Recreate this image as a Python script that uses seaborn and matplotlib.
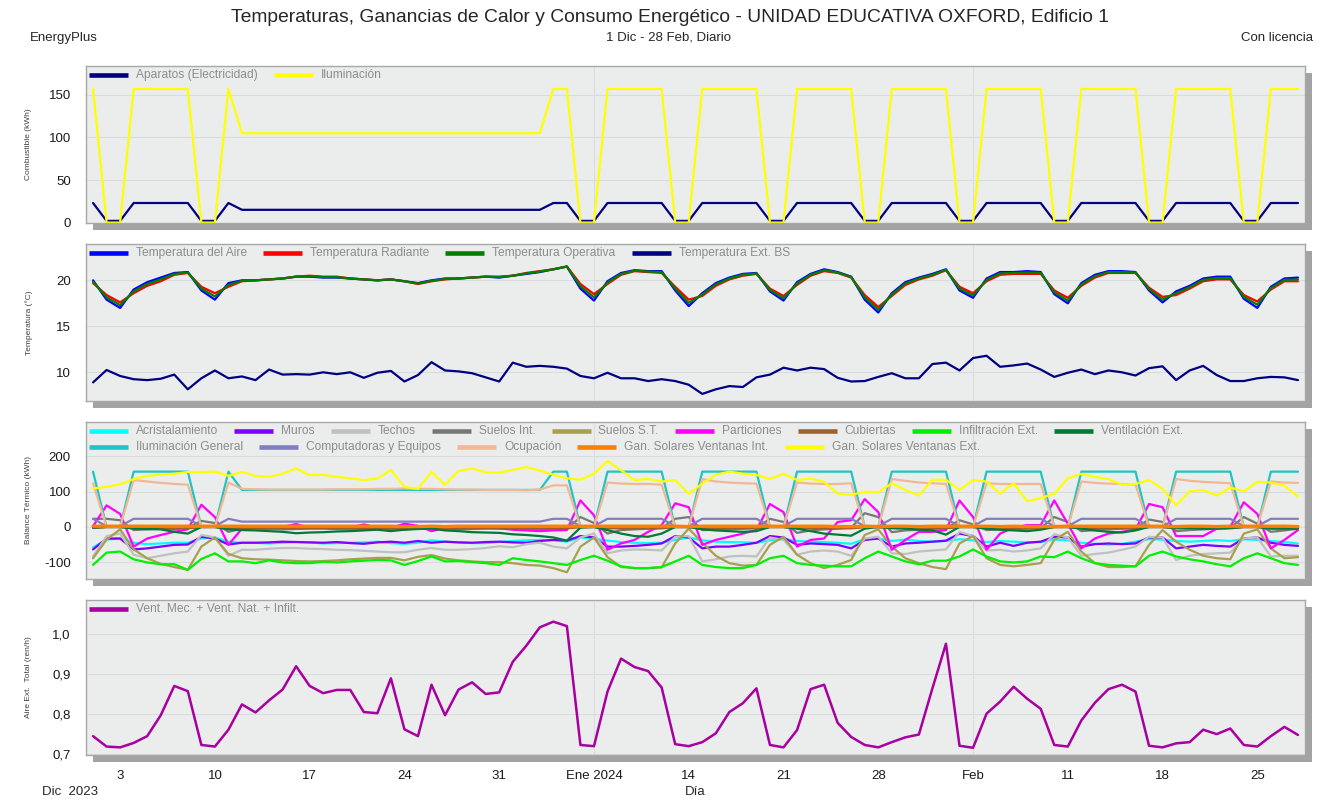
import pandas as pd
import seaborn as sns
import matplotlib
matplotlib.use("Agg")
import matplotlib.pyplot as plt
from matplotlib.lines import Line2D
from matplotlib.patches import Rectangle
from matplotlib.ticker import FuncFormatter

# ---------------------------------------------------------------- data
dias = pd.date_range("2023-12-01", "2024-02-28", freq="D")

tick_labels = ["3", "10", "17", "24", "31", "Ene 2024", "14", "21", "28",
               "Feb", "11", "18", "25"]

# Combustible (kWh)
aparatos = [23, 2, 2, 23, 23, 23, 23, 23, 2, 2,
            23, 15, 15, 15, 15, 15, 15, 15, 15, 15,
            15, 15, 15, 15, 15, 15, 15, 15, 15, 15,
            15, 15, 15, 15, 23, 23, 2, 2, 23, 23,
            23, 23, 23, 2, 2, 23, 23, 23, 23, 23,
            2, 2, 23, 23, 23, 23, 23, 2, 2, 23,
            23, 23, 23, 23, 2, 2, 23, 23, 23, 23,
            23, 2, 2, 23, 23, 23, 23, 23, 2, 2,
            23, 23, 23, 23, 23, 2, 2, 23, 23, 23]
iluminacion = [157, 0, 0, 157, 157, 157, 157, 157, 0, 0,
               157, 105, 105, 105, 105, 105, 105, 105, 105, 105,
               105, 105, 105, 105, 105, 105, 105, 105, 105, 105,
               105, 105, 105, 105, 157, 157, 0, 0, 157, 157,
               157, 157, 157, 0, 0, 157, 157, 157, 157, 157,
               0, 0, 157, 157, 157, 157, 157, 0, 0, 157,
               157, 157, 157, 157, 0, 0, 157, 157, 157, 157,
               157, 0, 0, 157, 157, 157, 157, 157, 0, 0,
               157, 157, 157, 157, 157, 0, 0, 157, 157, 157]

# Temperatura (°C)
t_aire = [20.0, 17.9, 17.0, 19.0, 19.8, 20.3, 20.8, 20.9, 18.9, 17.9,
          19.7, 20.0, 20.0, 20.1, 20.2, 20.4, 20.4, 20.3, 20.3, 20.2,
          20.1, 20.0, 20.1, 19.9, 19.7, 20.0, 20.2, 20.2, 20.3, 20.4,
          20.3, 20.5, 20.7, 20.9, 21.2, 21.5, 19.1, 17.8, 19.9, 20.8,
          21.1, 21.0, 21.0, 18.9, 17.2, 18.6, 19.7, 20.3, 20.7, 20.8,
          18.8, 17.8, 19.8, 20.7, 21.2, 20.9, 20.4, 17.9, 16.5, 18.6,
          19.8, 20.3, 20.7, 21.2, 18.9, 18.1, 20.2, 20.9, 20.9, 21.0,
          20.9, 18.5, 17.5, 19.7, 20.6, 21.0, 21.0, 20.9, 18.9, 17.6,
          18.8, 19.4, 20.2, 20.4, 20.4, 18.0, 17.0, 19.3, 20.2, 20.3]
t_radiante = [19.7, 18.4, 17.6, 18.6, 19.4, 19.9, 20.6, 20.8, 19.3, 18.6,
              19.3, 19.9, 20.0, 20.1, 20.2, 20.4, 20.5, 20.4, 20.4, 20.2,
              20.1, 20.0, 20.1, 19.9, 19.6, 19.9, 20.1, 20.2, 20.3, 20.4,
              20.4, 20.5, 20.8, 21.0, 21.2, 21.5, 19.6, 18.5, 19.6, 20.6,
              21.0, 20.9, 20.8, 19.3, 17.9, 18.3, 19.4, 20.1, 20.5, 20.7,
              19.1, 18.3, 19.5, 20.5, 21.0, 20.8, 20.3, 18.4, 17.1, 18.3,
              19.5, 20.1, 20.5, 21.1, 19.3, 18.6, 19.9, 20.6, 20.7, 20.7,
              20.7, 18.9, 18.1, 19.4, 20.3, 20.8, 20.8, 20.8, 19.2, 18.2,
              18.4, 19.1, 19.9, 20.1, 20.1, 18.4, 17.7, 19.0, 19.9, 19.9]
t_operativa = [19.85, 18.15, 17.3, 18.8, 19.6, 20.1, 20.7, 20.85, 19.1, 18.25,
               19.5, 19.95, 20.0, 20.1, 20.2, 20.4, 20.45, 20.35, 20.35, 20.2,
               20.1, 20.0, 20.1, 19.9, 19.65, 19.95, 20.15, 20.2, 20.3, 20.4,
               20.35, 20.5, 20.75, 20.95, 21.2, 21.5, 19.35, 18.15, 19.75, 20.7,
               21.05, 20.95, 20.9, 19.1, 17.55, 18.45, 19.55, 20.2, 20.6, 20.75,
               18.95, 18.05, 19.65, 20.6, 21.1, 20.85, 20.35, 18.15, 16.8, 18.45,
               19.65, 20.2, 20.6, 21.15, 19.1, 18.35, 20.05, 20.75, 20.8, 20.85,
               20.8, 18.7, 17.8, 19.55, 20.45, 20.9, 20.9, 20.85, 19.05, 17.9,
               18.6, 19.25, 20.05, 20.25, 20.25, 18.2, 17.35, 19.15, 20.05, 20.1]
t_exterior = [8.9, 10.25, 9.6, 9.25, 9.15, 9.3, 9.75, 8.15, 9.35, 10.2,
              9.35, 9.55, 9.15, 10.3, 9.75, 9.8, 9.75, 10.0, 9.8, 10.0,
              9.4, 9.95, 10.15, 9.0, 9.7, 11.1, 10.2, 10.1, 9.9, 9.45,
              9.0, 11.05, 10.6, 10.7, 10.6, 10.4, 9.6, 9.35, 9.95, 9.35,
              9.35, 9.05, 9.25, 9.05, 8.65, 7.65, 8.15, 8.5, 8.4, 9.45,
              9.75, 10.5, 10.2, 10.5, 10.35, 9.4, 9.0, 9.05, 9.5, 9.9,
              9.35, 9.35, 10.9, 11.05, 10.2, 11.55, 11.8, 10.6, 10.75, 10.95,
              10.3, 9.5, 9.95, 10.3, 9.8, 10.2, 10.0, 9.65, 10.45, 10.65,
              9.15, 10.2, 10.7, 9.7, 9.05, 9.05, 9.35, 9.5, 9.45, 9.15]

# Balance térmico (kWh)
acristalamiento = [-58, -36, -33, -45, -49, -47, -45, -45, -33, -30,
                   -42, -45, -45, -47, -45, -43, -44, -47, -46, -45,
                   -44, -42, -46, -48, -45, -38, -42, -44, -46, -46,
                   -43, -40, -38, -37, -38, -42, -30, -33, -39, -43,
                   -45, -46, -45, -37, -30, -38, -42, -43, -44, -45,
                   -38, -35, -40, -42, -43, -45, -48, -35, -33, -40,
                   -36, -40, -42, -40, -35, -38, -43, -40, -42, -44,
                   -43, -36, -38, -45, -48, -50, -48, -42, -35, -36,
                   -40, -42, -40, -38, -40, -35, -37, -40, -43, -47]
muros = [-64, -33, -33, -64, -61, -56, -51, -50, -28, -33,
         -50, -45, -45, -44, -42, -43, -44, -45, -43, -46,
         -48, -44, -42, -45, -40, -45, -42, -44, -45, -43,
         -42, -44, -45, -40, -37, -39, -26, -30, -56, -56,
         -54, -51, -47, -26, -30, -61, -56, -56, -51, -45,
         -26, -30, -51, -47, -49, -51, -61, -37, -33, -56,
         -47, -45, -42, -39, -19, -26, -56, -45, -54, -45,
         -42, -28, -30, -56, -49, -47, -49, -47, -30, -30,
         -61, -56, -51, -54, -56, -33, -30, -45, -51, -54]
techos = [-84, -26, -19, -79, -89, -82, -75, -70, -23, -30,
          -82, -65, -65, -62, -60, -60, -62, -63, -65, -66,
          -68, -70, -72, -72, -65, -60, -65, -65, -63, -60,
          -55, -58, -49, -45, -56, -61, -30, -19, -75, -67,
          -64, -65, -67, -28, -26, -98, -92, -84, -82, -84,
          -30, -37, -79, -70, -67, -70, -82, -33, -28, -75,
          -77, -70, -67, -64, -14, -26, -67, -65, -70, -67,
          -61, -21, -30, -82, -77, -73, -65, -56, -28, -30,
          -94, -82, -77, -75, -73, -33, -30, -84, -82, -82]
suelos_int = [23, 23, 19, -9, -7, -5, -7, -2, 17, 11,
              -14, -5, -5, -6, -7, -6, -5, -5, -6, -7,
              -6, -5, -6, -7, -5, -4, -6, -7, -6, -5,
              -5, -6, -7, -8, -8, -6, 28, 11, -19, -9,
              -7, -5, -3, 23, 28, -9, -8, -6, -5, -3,
              23, 14, -17, -10, -7, -5, -2, 39, 28, -15,
              -10, -8, -6, -4, 19, 7, -9, -7, -6, -5,
              -3, 28, 14, -12, -9, -7, -5, -3, 21, 14,
              -12, -9, -7, -5, -3, 28, 9, -14, -10, -5]
suelos_st = [-89, -36, -7, -64, -89, -105, -114, -122, -56, -30,
             -77, -89, -92, -93, -95, -97, -98, -97, -95, -92,
             -90, -88, -88, -95, -85, -80, -90, -95, -98, -100,
             -100, -103, -108, -110, -117, -129, -56, -30, -86, -114,
             -117, -117, -115, -47, -5, -45, -82, -103, -110, -108,
             -51, -28, -79, -103, -117, -108, -94, -23, -7, -56,
             -89, -103, -114, -120, -47, -26, -89, -108, -112, -108,
             -103, -37, -14, -70, -103, -114, -114, -112, -51, -9,
             -42, -65, -82, -89, -92, -19, -7, -61, -89, -86]
particiones = [2, 61, 37, -56, -33, -23, -14, -7, 63, 28,
               -51, -5, -3, -2, 0, 8, -3, -2, -3, -2,
               7, -2, -3, 9, 3, -12, -3, -5, -3, -2,
               -4, -8, -10, -12, -10, -9, 75, 33, -65, -47,
               -37, -14, 5, 67, 56, -51, -37, -28, -19, -9,
               65, 42, -56, -37, -33, 14, 19, 79, 42, -65,
               -37, -14, -14, -9, 75, 28, -65, -19, -2, 5,
               5, 75, 9, -61, -33, -19, -14, -7, 65, 56,
               -26, -26, -26, -5, 0, 70, 37, -61, -37, -9]
cubiertas = [-3, -1, -1, -3, -3, -4, -4, -4, -1, -1,
             -3, -3, -3, -3, -3, -3, -3, -3, -3, -3,
             -3, -3, -3, -3, -3, -3, -3, -3, -3, -3,
             -3, -3, -4, -4, -4, -4, -1, -1, -4, -4,
             -4, -4, -4, -1, -1, -4, -4, -4, -4, -4,
             -1, -1, -4, -4, -4, -4, -4, -1, -1, -4,
             -4, -4, -4, -4, -1, -1, -4, -4, -4, -4,
             -4, -1, -1, -4, -4, -4, -4, -4, -1, -1,
             -4, -4, -4, -4, -4, -1, -1, -4, -4, -4]
infiltracion = [-108, -73, -70, -92, -101, -106, -106, -122, -91, -75,
                -98, -98, -103, -95, -101, -103, -103, -99, -101, -98,
                -96, -94, -95, -108, -97, -84, -98, -97, -100, -103,
                -108, -89, -94, -98, -103, -108, -94, -82, -96, -112,
                -117, -117, -114, -98, -82, -108, -114, -117, -117, -108,
                -89, -82, -103, -108, -110, -112, -112, -89, -70, -84,
                -98, -106, -96, -96, -84, -64, -84, -98, -101, -98,
                -84, -86, -70, -89, -103, -108, -110, -112, -82, -70,
                -84, -92, -98, -106, -112, -89, -75, -89, -103, -108]
ventilacion = [-2, 0, 0, -5, -6, -7, -14, -19, 0, 0,
               -7, -9, -10, -12, -14, -18, -16, -15, -13, -12,
               -10, -8, -12, -8, -6, -5, -10, -12, -15, -16,
               -17, -21, -23, -26, -30, -39, -2, 0, -9, -19,
               -26, -28, -19, 0, 0, -7, -10, -12, -14, -12,
               0, 0, -5, -12, -19, -22, -25, -5, 0, -3,
               -5, -8, -10, -22, 0, 0, -5, -8, -10, -12,
               -8, 0, 0, -5, -10, -14, -16, -10, 0, 0,
               -3, -3, -5, -5, -3, 0, 0, -5, -5, -5]
ilum_general = iluminacion
equipos = aparatos
ocupacion = [124, 0, 0, 133, 129, 125, 122, 120, 0, 0,
             126, 108, 107, 106, 106, 106, 106, 106, 107, 107,
             107, 108, 108, 109, 108, 108, 107, 106, 106, 105,
             105, 105, 104, 106, 118, 118, 0, 0, 126, 123,
             122, 122, 120, 0, 0, 136, 129, 126, 124, 123,
             0, 0, 126, 123, 122, 122, 124, 0, 0, 136,
             131, 126, 124, 122, 0, 0, 124, 122, 122, 122,
             122, 0, 0, 129, 125, 123, 122, 120, 0, 0,
             136, 131, 128, 126, 124, 0, 0, 129, 126, 125]
solar_int = [2, 2, 2, 2, 2, 2, 2, 2, 2, 2,
             2, 2, 2, 2, 2, 2, 2, 2, 2, 2,
             2, 2, 2, 1, 1, 2, 1, 2, 2, 2,
             2, 2, 2, 2, 2, 2, 2, 2, 2, 2,
             2, 2, 2, 2, 1, 2, 2, 2, 2, 2,
             2, 2, 2, 2, 2, 1, 1, 2, 1, 2,
             2, 1, 2, 2, 2, 2, 2, 1, 2, 1,
             1, 1, 2, 2, 2, 2, 2, 2, 2, 2,
             1, 2, 2, 1, 2, 2, 2, 2, 2, 1]
solar_ext = [109, 114, 121, 136, 145, 148, 151, 156, 156, 157,
             145, 156, 145, 142, 151, 166, 147, 148, 142, 138,
             133, 137, 162, 114, 108, 156, 120, 159, 166, 155,
             154, 162, 170, 160, 148, 138, 134, 151, 187, 161,
             133, 136, 129, 133, 94, 123, 148, 157, 151, 148,
             136, 151, 133, 137, 128, 95, 91, 100, 98, 124,
             105, 89, 134, 134, 105, 133, 129, 95, 124, 73,
             82, 94, 138, 151, 142, 136, 120, 122, 133, 108,
             61, 101, 105, 89, 112, 101, 128, 126, 117, 86]

# Aire exterior total (ren/h)
aire_ext = [0.745, 0.719, 0.717, 0.728, 0.745, 0.797, 0.870, 0.857, 0.723, 0.719,
            0.761, 0.824, 0.804, 0.834, 0.861, 0.919, 0.870, 0.852, 0.860, 0.860,
            0.805, 0.802, 0.889, 0.762, 0.745, 0.873, 0.797, 0.861, 0.879, 0.850,
            0.854, 0.930, 0.970, 1.016, 1.030, 1.019, 0.723, 0.720, 0.856, 0.938,
            0.917, 0.907, 0.866, 0.725, 0.720, 0.730, 0.752, 0.805, 0.827, 0.864,
            0.723, 0.717, 0.760, 0.862, 0.873, 0.778, 0.743, 0.723, 0.717, 0.730,
            0.742, 0.749, 0.864, 0.975, 0.721, 0.716, 0.801, 0.831, 0.868, 0.838,
            0.813, 0.723, 0.719, 0.784, 0.828, 0.862, 0.873, 0.856, 0.721, 0.717,
            0.727, 0.730, 0.761, 0.750, 0.764, 0.723, 0.719, 0.745, 0.768, 0.748]

panel1 = [("Aparatos (Electricidad)", aparatos, "#000080"),
          ("Iluminación", iluminacion, "#FFFF00")]
panel2 = [("Temperatura del Aire", t_aire, "#0000FF"),
          ("Temperatura Radiante", t_radiante, "#FF0000"),
          ("Temperatura Operativa", t_operativa, "#008000"),
          ("Temperatura Ext. BS", t_exterior, "#000080")]
panel3 = [("Acristalamiento", acristalamiento, "#00FFFF"),
          ("Muros", muros, "#8000FF"),
          ("Techos", techos, "#C0C0C0"),
          ("Suelos Int.", suelos_int, "#787878"),
          ("Suelos S.T.", suelos_st, "#A8A050"),
          ("Particiones", particiones, "#FF00FF"),
          ("Cubiertas", cubiertas, "#A0602C"),
          ("Infiltración Ext.", infiltracion, "#00F000"),
          ("Ventilación Ext.", ventilacion, "#007A36"),
          ("Iluminación General", ilum_general, "#20C4C4"),
          ("Computadoras y Equipos", equipos, "#8080C0"),
          ("Ocupación", ocupacion, "#F2B894"),
          ("Gan. Solares Ventanas Int.", solar_int, "#FF8000"),
          ("Gan. Solares Ventanas Ext.", solar_ext, "#FFFF00")]
panel4 = [("Vent. Mec. + Vent. Nat. + Infilt.", aire_ext, "#A800A0")]

for _, serie, _ in panel1 + panel2 + panel3 + panel4:
    assert len(serie) == len(dias)

# ---------------------------------------------------------------- figure
sns.set_style("white")
plt.rcParams["font.family"] = ["Liberation Sans", "DejaVu Sans"]
plt.rcParams["axes.unicode_minus"] = False

W, H = 1344, 807
fig = plt.figure(figsize=(W / 100, H / 100), dpi=100)
renderer = fig.canvas.get_renderer()

FR_L, FR_R = 86, 1305
half_day = pd.Timedelta(hours=12.5)
tick_pos = dias[2::7]


def add_panel(top, bottom, ylim, yticks, ylabel):
    ax = fig.add_axes([FR_L / W, 1 - bottom / H, (FR_R - FR_L) / W, (bottom - top) / H])
    fig.add_artist(Rectangle(((FR_L + 7) / W, 1 - (bottom + 7) / H),
                             (FR_R - FR_L) / W, (bottom - top) / H,
                             transform=fig.transFigure, facecolor="#A3A3A3",
                             edgecolor="none", zorder=-1))
    ax.set_facecolor("#EBEDED")
    for s in ax.spines.values():
        s.set_color("#A8A8A8")
        s.set_linewidth(1)
    ax.set_xlim(dias[0] - half_day, dias[-1] + half_day)
    ax.set_ylim(*ylim)
    ax.set_yticks(yticks)
    for y in yticks:
        ax.axhline(y, color="#D9DCDC", lw=0.8, zorder=0)
    for d in (tick_pos[5], tick_pos[9]):
        ax.axvline(d, color="#DADDDD", lw=0.8, zorder=0)
    ax.set_xticks(tick_pos)
    ax.tick_params(axis="y", length=8, width=0.8, color="#B8B8B8", pad=3,
                   labelsize=9.5, labelcolor="#1A1A1A")
    ax.tick_params(axis="x", length=0, labelbottom=False)
    ax.set_xlabel("")
    ax.set_ylabel("")
    fig.text(29 / W, 1 - (top + bottom) / 2 / H, ylabel, rotation=90,
             ha="center", va="center", fontsize=6, color="#404040")
    return ax


def flow_legend(ax, rows):
    top = (1 - ax.get_position().y1) * H
    for r, row in enumerate(rows):
        y = 1 - (top + 9 + 16 * r) / H
        x = FR_L + 3
        for label, color in row:
            fig.add_artist(Line2D([x / W, (x + 39) / W], [y, y],
                                  transform=fig.transFigure, color=color,
                                  lw=3.3, solid_capstyle="butt"))
            t = fig.text((x + 47) / W, y, label, fontsize=8.65, color="#8C8C8C",
                         ha="left", va="center")
            x = x + 47 + t.get_window_extent(renderer).width + 16


def draw(ax, series, lw=1.6):
    for name, serie, color in series:
        width = 2.4 if name == "Gan. Solares Ventanas Int." else lw
        sns.lineplot(x=dias, y=serie, ax=ax, color=color, linewidth=width,
                     legend=False)
    ax.set_xlabel("")
    ax.set_ylabel("")


ax1 = add_panel(66, 223, (-0.5, 184), [0, 50, 100, 150], "Combustible (kWh)")
draw(ax1, panel1)
flow_legend(ax1, [[(n, c) for n, _, c in panel1]])

ax2 = add_panel(244, 401, (6.88, 23.95), [10, 15, 20], "Temperatura (°C)")
draw(ax2, panel2)
flow_legend(ax2, [[(n, c) for n, _, c in panel2]])

ax3 = add_panel(422, 579, (-148, 298), [-100, 0, 100, 200], "Balance Térmico (kWh)")
draw(ax3, panel3)
flow_legend(ax3, [[(n, c) for n, _, c in panel3[:9]],
                  [(n, c) for n, _, c in panel3[9:]]])

ax4 = add_panel(600, 755, (0.698, 1.084), [0.7, 0.8, 0.9, 1.0], "Aire Ext.  Total (ren/h)")
draw(ax4, panel4, lw=1.8)
flow_legend(ax4, [[(n, c) for n, _, c in panel4]])
ax4.yaxis.set_major_formatter(FuncFormatter(lambda v, p: f"{v:.1f}".replace(".", ",")))
ax4.set_xticks(tick_pos)
ax4.set_xticklabels(tick_labels)
ax4.tick_params(axis="x", length=7, width=0.8, color="#CFCFCF", pad=4,
                labelsize=9.5, labelcolor="#1A1A1A", labelbottom=True)

# ---------------------------------------------------------------- texts
fig.text(670 / W, 1 - 17 / H,
         "Temperaturas, Ganancias de Calor y Consumo Energético - UNIDAD EDUCATIVA OXFORD, Edificio 1",
         ha="center", va="center", fontsize=13.9)
fig.text(30 / W, 1 - 38 / H, "EnergyPlus", ha="left", va="center", fontsize=9.5)
fig.text(668 / W, 1 - 38 / H, "1 Dic - 28 Feb, Diario", ha="center", va="center", fontsize=9.5)
fig.text(1313 / W, 1 - 38 / H, "Con licencia", ha="right", va="center", fontsize=9.5)
fig.text(42 / W, 1 - 792 / H, "Dic  2023", ha="left", va="center", fontsize=9.5)
fig.text(695 / W, 1 - 792 / H, "Día", ha="center", va="center", fontsize=9.5)

fig.savefig("out.png", dpi=100, facecolor="white")
